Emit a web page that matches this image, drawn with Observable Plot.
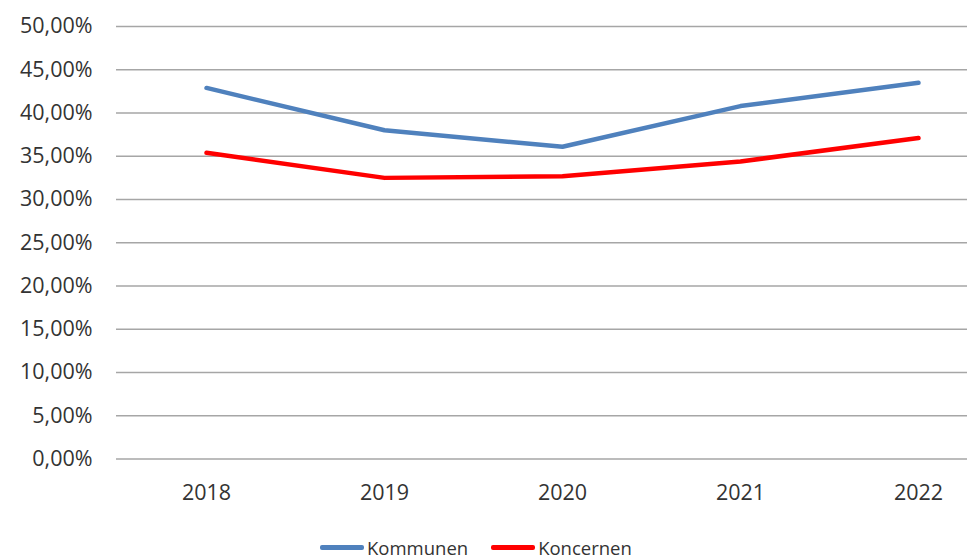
<!DOCTYPE html>
<html>
<head>
<meta charset="utf-8">
<script src="https://cdn.jsdelivr.net/npm/d3@7"></script>
<script src="https://cdn.jsdelivr.net/npm/@observablehq/plot@0.6"></script>
<style>
  html, body { margin: 0; padding: 0; background: #fff; }
  #chart { width: 967px; }
  .legend { display: flex; justify-content: flex-start; align-items: center; height: 28px; margin-top: 13px;
    font-family: "Open Sans", sans-serif; font-size: 18.5px; color: #333; padding-left: 320px; }
  .legend .item { display: flex; align-items: center; margin-right: 23px; }
  .legend .sw { width: 44px; height: 5px; border-radius: 2px; margin-right: 3px; }
</style>
</head>
<body>
<div id="chart"></div>
<script>
const years = ["2018", "2019", "2020", "2021", "2022"];
const kommunen = [42.9, 38.0, 36.1, 40.8, 43.5];
const koncernen = [35.4, 32.5, 32.7, 34.4, 37.1];
const yTicks = [0, 5, 10, 15, 20, 25, 30, 35, 40, 45, 50];
const seriesNames = ["Kommunen", "Koncernen"];
const seriesColors = ["#4f81bd", "#ff0000"];

const data = [
  ...years.map((y, i) => ({year: y, value: kommunen[i], series: seriesNames[0]})),
  ...years.map((y, i) => ({year: y, value: koncernen[i], series: seriesNames[1]}))
];

const fmt = v => v.toFixed(2).replace(".", ",") + "%";

const plot = Plot.plot({
  width: 967,
  height: 520,
  marginTop: 26,
  marginBottom: 61.5,
  marginLeft: 116,
  marginRight: 0,
  insetLeft: 89,
  insetRight: 49,
  style: {fontFamily: "Open Sans, sans-serif", fontSize: "21.5px", color: "#333", background: "#fff"},
  x: {type: "point", domain: years, padding: 0, label: null, tickSize: 0, tickPadding: 26},
  y: {domain: [0, 50], ticks: yTicks, tickFormat: fmt, label: null, tickSize: 0, tickPadding: 24},
  color: {domain: seriesNames, range: seriesColors},
  marks: [
    Plot.ruleY(yTicks, {stroke: "#a6a6a6", strokeWidth: 1.5}),
    Plot.line(data, {x: "year", y: "value", z: "series", stroke: "series", strokeWidth: 4.5,
      strokeLinejoin: "round", strokeLinecap: "round"})
  ]
});
document.getElementById("chart").appendChild(plot);

const legend = document.createElement("div");
legend.className = "legend";
seriesNames.forEach((n, i) => {
  const it = document.createElement("div");
  it.className = "item";
  const sw = document.createElement("div");
  sw.className = "sw";
  sw.style.background = seriesColors[i];
  const t = document.createElement("span");
  t.textContent = n;
  it.appendChild(sw); it.appendChild(t);
  legend.appendChild(it);
});
document.getElementById("chart").appendChild(legend);
</script>
</body>
</html>
